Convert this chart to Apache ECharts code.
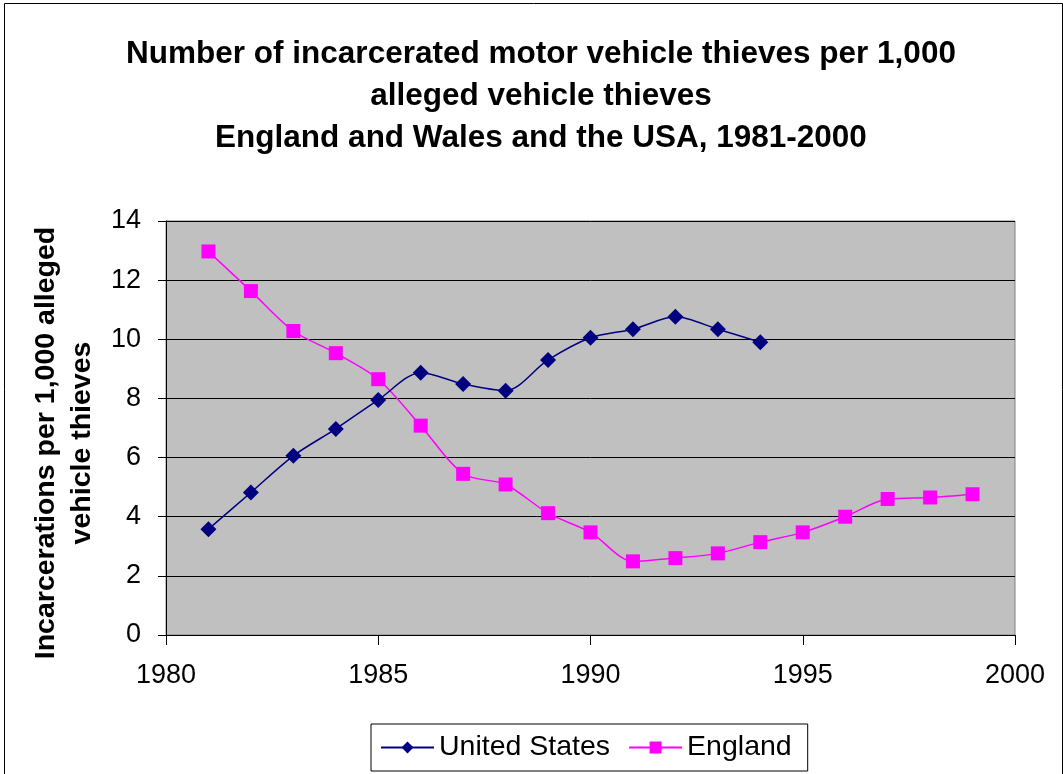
<!DOCTYPE html>
<html>
<head>
<meta charset="utf-8">
<script src="https://cdn.jsdelivr.net/npm/echarts@6/dist/echarts.min.js"></script>
<style>
html,body{margin:0;padding:0;background:#fff;}
#c{width:1063px;height:774px;}
</style>
</head>
<body>
<div id="c"></div>
<script>
const usYears = [1981,1982,1983,1984,1985,1986,1987,1988,1989,1990,1991,1992,1993,1994];
const usValues = [3.58,4.82,6.06,6.97,7.95,8.87,8.49,8.26,9.30,10.05,10.34,10.76,10.34,9.90];
const engYears = [1981,1982,1983,1984,1985,1986,1987,1988,1989,1990,1991,1992,1993,1994,1995,1996,1997,1998,1999];
const engValues = [12.97,11.63,10.28,9.53,8.65,7.08,5.45,5.09,4.12,3.47,2.49,2.60,2.76,3.14,3.47,4.00,4.60,4.65,4.76];
const seriesNames = ['United States','England'];
const titleText = 'Number of incarcerated motor vehicle thieves per 1,000\nalleged vehicle thieves\nEngland and Wales and the USA, 1981-2000';
const yAxisName = 'Incarcerations per 1,000 alleged\nvehicle thieves';

const pair = (xs, ys) => xs.map((x, i) => [x, ys[i]]);
const font = '"Liberation Sans", Arial, sans-serif';

const chart = echarts.init(document.getElementById('c'), null, {renderer:'canvas'});
chart.setOption({
  animation: false,
  backgroundColor: '#ffffff',
  graphic: [{
    type: 'rect', left: 2, top: 1, z: -10,
    shape: {x: 0, y: 0, width: 1058, height: 790},
    style: {fill: 'none', stroke: '#000', lineWidth: 1}
  }],
  title: {
    text: titleText,
    left: 536, top: 28, textAlign: 'center',
    textStyle: {fontFamily: font, fontSize: 31.5, fontWeight: 'bold', color: '#000', lineHeight: 42}
  },
  grid: {
    left: 166, right: 48, top: 221, bottom: 139,
    show: true, backgroundColor: '#C0C0C0', borderColor: '#808080', borderWidth: 1
  },
  legend: {
    left: 371, top: 724,
    padding: [9, 16, 9, 9],
    borderColor: '#000', borderWidth: 1, backgroundColor: '#fff',
    itemWidth: 53, itemHeight: 15, itemGap: 18,
    textStyle: {fontFamily: font, fontSize: 28.5, color: '#000'},
    data: seriesNames
  },
  xAxis: {
    type: 'value', min: 1980, max: 2000, interval: 5,
    axisLine: {show: true, lineStyle: {color: '#000', width: 1}},
    axisTick: {show: true, inside: false, length: 10, lineStyle: {color: '#000'}},
    axisLabel: {fontFamily: font, fontSize: 27, color: '#000', margin: 27, formatter: v => String(v)},
    splitLine: {show: false}
  },
  yAxis: {
    type: 'value', min: 0, max: 14, interval: 2,
    name: yAxisName,
    nameLocation: 'middle', nameRotate: 90, nameGap: 66,
    nameTextStyle: {fontFamily: font, fontSize: 28.5, fontWeight: 'bold', color: '#000', lineHeight: 36, padding: [0, 30, 0, 0]},
    axisLine: {show: true, lineStyle: {color: '#000', width: 1}},
    axisTick: {show: true, inside: false, length: 8, lineStyle: {color: '#000'}},
    axisLabel: {fontFamily: font, fontSize: 27, color: '#000', margin: 25},
    splitLine: {show: true, lineStyle: {color: '#000', width: 1}}
  },
  series: [
    {
      name: seriesNames[0], type: 'line', smooth: 0.3,
      data: pair(usYears, usValues),
      symbol: 'diamond', symbolSize: 16,
      lineStyle: {color: '#000080', width: 1.5},
      itemStyle: {color: '#000080', borderColor: '#000080', borderWidth: 0},
      z: 3
    },
    {
      name: seriesNames[1], type: 'line', smooth: 0.3,
      data: pair(engYears, engValues),
      symbol: 'rect', symbolSize: 14,
      lineStyle: {color: '#FF00FF', width: 1.5},
      itemStyle: {color: '#FF00FF', borderColor: '#FF00FF', borderWidth: 0},
      z: 2
    }
  ]
});
</script>
</body>
</html>
